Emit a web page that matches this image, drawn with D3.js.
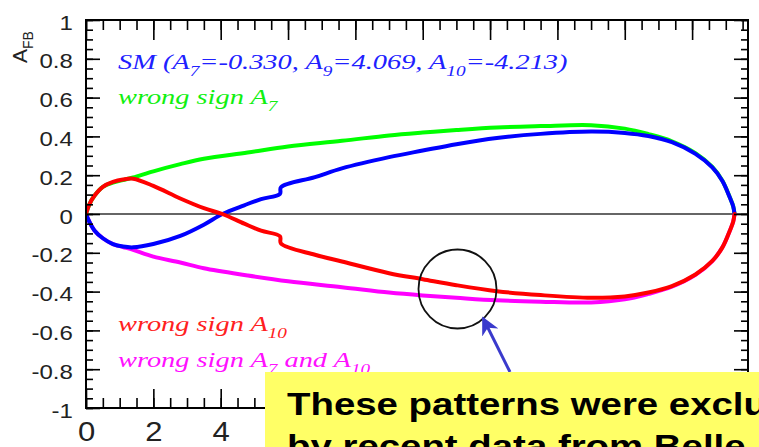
<!DOCTYPE html>
<html>
<head>
<meta charset="utf-8">
<script src="https://cdn.jsdelivr.net/npm/d3@7"></script>
<style>
  html, body { margin: 0; padding: 0; background: #fff; }
  svg { display: block; }
</style>
</head>
<body>
<svg id="chart" width="759" height="447"></svg>
<script>
// Forward-backward asymmetry A_FB versus q^2 for four Wilson-coefficient sign choices.

// SM (A7=-0.330, A9=4.069, A10=-4.213)
const qSM   = [0, 0.1, 0.25, 0.5, 0.8, 1.1, 1.4, 2.0, 2.8, 3.5, 4.05, 4.7, 5.2, 5.76, 5.79, 6.8, 7.6, 9, 10, 11, 12.2, 13.5, 15, 16, 16.7, 17.4, 18.1, 18.6, 18.9, 19.12, 19.22, 19.26];
const afbSM = [0, -0.04, -0.085, -0.125, -0.155, -0.168, -0.172, -0.155, -0.113, -0.055, 0, 0.045, 0.077, 0.104, 0.138, 0.19, 0.235, 0.293, 0.327, 0.36, 0.392, 0.413, 0.425, 0.418, 0.402, 0.37, 0.31, 0.24, 0.17, 0.085, 0.04, 0];

// wrong sign A7
const qA7   = [0, 0.1, 0.25, 0.5, 0.8, 1.1, 1.4, 2.0, 2.8, 3.5, 4.8, 6, 7.6, 9, 10, 11, 12.2, 13.5, 15, 16, 16.7, 17.4, 18.1, 18.6, 18.9, 19.12, 19.22, 19.26];
const afbA7 = [0, 0.05, 0.094, 0.14, 0.162, 0.175, 0.188, 0.22, 0.257, 0.285, 0.317, 0.348, 0.377, 0.405, 0.42, 0.433, 0.446, 0.453, 0.458, 0.44, 0.412, 0.375, 0.314, 0.243, 0.172, 0.086, 0.04, 0];

// wrong sign A10
const qA10   = [0, 0.1, 0.25, 0.5, 0.8, 1.1, 1.4, 2.0, 2.8, 3.5, 4.05, 4.7, 5.2, 5.76, 5.79, 6.8, 7.6, 9, 10, 11, 12.2, 13.5, 15, 16, 16.7, 17.4, 18.1, 18.6, 18.9, 19.12, 19.22, 19.26];
const afbA10 = [0, 0.05, 0.094, 0.14, 0.165, 0.178, 0.182, 0.145, 0.08, 0.03, 0, -0.05, -0.086, -0.115, -0.152, -0.21, -0.245, -0.305, -0.336, -0.367, -0.398, -0.418, -0.432, -0.425, -0.405, -0.372, -0.312, -0.242, -0.172, -0.086, -0.04, 0];

// wrong sign A7 and A10
const qA7A10   = [0, 0.1, 0.25, 0.5, 0.8, 1.1, 1.4, 2.0, 2.8, 3.5, 4.8, 6, 7.6, 9, 10, 11, 12.2, 13.5, 15, 16, 16.7, 17.4, 18.1, 18.6, 18.9, 19.12, 19.22, 19.26];
const afbA7A10 = [0, -0.04, -0.085, -0.125, -0.155, -0.17, -0.185, -0.22, -0.25, -0.28, -0.317, -0.347, -0.377, -0.405, -0.42, -0.432, -0.445, -0.452, -0.456, -0.44, -0.412, -0.375, -0.314, -0.243, -0.172, -0.086, -0.04, 0];

// axis ticks
const xMajorTicks = [0, 2, 4, 6, 8, 10, 12, 14, 16, 18];
const xTickLabels = [0, 2, 4];          // the rest sit under the callout box
const xMinorTicks = d3.range(0, 19.7, 0.5);
const yTickLabels = [1, 0.8, 0.6, 0.4, 0.2, 0, -0.2, -0.4, -0.6, -0.8, -1];
const yMinorTicks = d3.range(-1, 1.001, 0.05);

const svg = d3.select("#chart");
const xMax = 19.66;
const x = d3.scaleLinear().domain([0, xMax]).range([86, 748]);
const y = d3.scaleLinear().domain([-1, 1]).range([408, 20]);

const sansFont = "'Liberation Sans', Arial, Helvetica, sans-serif";
const serifFont = "'Liberation Serif', 'Times New Roman', serif";
const stretch = 1.2;   // glyphs are drawn slightly wide

const defs = svg.append("defs");
defs.append("clipPath").attr("id", "frameClip")
  .append("rect").attr("x", x(0)).attr("y", y(1))
  .attr("width", x(xMax) - x(0)).attr("height", y(-1) - y(1));

// zero line
svg.append("line")
  .attr("x1", x(0)).attr("x2", x(xMax))
  .attr("y1", y(0)).attr("y2", y(0))
  .attr("stroke", "#333").attr("stroke-width", 1.4);

// curves
const line = d3.line().x(d => x(d[0])).y(d => y(d[1])).curve(d3.curveCatmullRom.alpha(0.5));
const series = [
  { q: qA7, a: afbA7, color: "#00ff00" },
  { q: qA7A10, a: afbA7A10, color: "#ff00ff" },
  { q: qSM, a: afbSM, color: "#0000ff" },
  { q: qA10, a: afbA10, color: "#ff0000" }
];
const curves = svg.append("g").attr("clip-path", "url(#frameClip)");
series.forEach(s => {
  curves.append("path")
    .datum(s.q.map((v, i) => [v, s.a[i]]))
    .attr("d", line)
    .attr("fill", "none")
    .attr("stroke", s.color)
    .attr("stroke-width", 4)
    .attr("stroke-linejoin", "round")
    .attr("stroke-linecap", "round");
});

// axes with inward ticks
function styleAxis(g) {
  g.select(".domain").remove();
  g.selectAll(".tick line").attr("stroke", "#000").attr("stroke-width", 1.6);
}
svg.append("g").attr("transform", `translate(${x(0)},0)`)
  .call(d3.axisLeft(y).tickValues(yTickLabels).tickSize(-14).tickPadding(11)
        .tickFormat(d => String(d)))
  .call(styleAxis)
  .call(g => g.selectAll("text").attr("font-family", sansFont).attr("font-size", 20)
        .attr("fill", "#222").attr("dy", "0.45em")
        .attr("transform", `scale(${stretch},1)`));
svg.append("g").attr("transform", `translate(${x(0)},0)`)
  .call(d3.axisLeft(y).tickValues(yMinorTicks).tickSize(-7).tickFormat(""))
  .call(styleAxis);
svg.append("g").attr("transform", `translate(${x(xMax)},0)`)
  .call(d3.axisRight(y).tickValues(yTickLabels).tickSize(-14).tickFormat(""))
  .call(styleAxis);
svg.append("g").attr("transform", `translate(${x(xMax)},0)`)
  .call(d3.axisRight(y).tickValues(yMinorTicks).tickSize(-7).tickFormat(""))
  .call(styleAxis);
svg.append("g").attr("transform", `translate(0,${y(-1)})`)
  .call(d3.axisBottom(x).tickValues(xMajorTicks).tickSize(-19).tickFormat(""))
  .call(styleAxis);
svg.append("g").attr("transform", `translate(0,${y(-1)})`)
  .call(d3.axisBottom(x).tickValues(xTickLabels).tickSize(0).tickPadding(14)
        .tickFormat(d => String(d)))
  .call(styleAxis)
  .call(g => g.selectAll("text").attr("font-family", sansFont).attr("font-size", 27)
        .attr("fill", "#222").attr("transform", `scale(${stretch - 0.05},1)`)
        .attr("x", 0));
svg.append("g").attr("transform", `translate(0,${y(-1)})`)
  .call(d3.axisBottom(x).tickValues(xMinorTicks).tickSize(-10).tickFormat(""))
  .call(styleAxis);
svg.append("g").attr("transform", `translate(0,${y(1)})`)
  .call(d3.axisTop(x).tickValues(xMajorTicks).tickSize(-20).tickFormat(""))
  .call(styleAxis);
svg.append("g").attr("transform", `translate(0,${y(1)})`)
  .call(d3.axisTop(x).tickValues(xMinorTicks).tickSize(-10).tickFormat(""))
  .call(styleAxis);

// frame
svg.append("rect")
  .attr("x", x(0)).attr("y", y(1))
  .attr("width", x(xMax) - x(0)).attr("height", y(-1) - y(1))
  .attr("fill", "none").attr("stroke", "#000").attr("stroke-width", 2);

// y-axis title
const yTitle = svg.append("text")
  .attr("transform", "translate(27,63) rotate(-90)")
  .attr("font-family", sansFont).attr("font-size", 21).attr("fill", "#222");
yTitle.append("tspan").text("A");
yTitle.append("tspan").attr("font-size", 14).attr("dy", 6).text("FB");

// legend labels with subscripts
function latex(parts, px, py, color, size) {
  const t = svg.append("text")
    .attr("transform", `translate(${px},${py}) scale(1.29,1)`)
    .attr("font-family", serifFont).attr("font-style", "italic")
    .attr("font-size", size).attr("fill", color);
  let shifted = false;
  parts.forEach(p => {
    const sub = Array.isArray(p);
    const ts = t.append("tspan").text(sub ? p[0] : p);
    if (sub) { ts.attr("font-size", size * 0.68).attr("dy", shifted ? 0 : 7); shifted = true; }
    else if (shifted) { ts.attr("dy", -7); shifted = false; }
  });
  return t;
}
latex(["SM (A", ["7"], "=-0.330, A", ["9"], "=4.069, A", ["10"], "=-4.213)"], 118, 69, "#2020ff", 22);
latex(["wrong sign A", ["7"]], 118, 104, "#10f010", 22);
latex(["wrong sign A", ["10"]], 118, 331, "#ff2020", 22);
latex(["wrong sign A", ["7"], " and A", ["10"]], 118, 367, "#ff10ff", 22);

// highlight circle and arrow
svg.append("ellipse")
  .attr("cx", 457.5).attr("cy", 289).attr("rx", 39).attr("ry", 39.5)
  .attr("fill", "none").attr("stroke", "#111").attr("stroke-width", 1.8);

defs.append("marker")
  .attr("id", "arrowHead").attr("viewBox", "0 0 10 10")
  .attr("refX", 9).attr("refY", 5)
  .attr("markerWidth", 6).attr("markerHeight", 6)
  .attr("orient", "auto")
  .append("path").attr("d", "M0,0 L10,5 L0,10 L3,5 Z").attr("fill", "#3a3acc");
svg.append("line")
  .attr("x1", 510).attr("y1", 372).attr("x2", 483).attr("y2", 318)
  .attr("stroke", "#3a3acc").attr("stroke-width", 3)
  .attr("marker-end", "url(#arrowHead)");

// callout box
svg.append("rect")
  .attr("x", 265).attr("y", 372).attr("width", 520).attr("height", 100)
  .attr("fill", "#ffff66");
const noteLines = ["These patterns were excluded", "by recent data from Belle"];
noteLines.forEach((s, i) => {
  svg.append("text")
    .attr("transform", `translate(287,${415 + i * 42}) scale(${stretch},1)`)
    .attr("font-family", sansFont).attr("font-weight", "bold")
    .attr("font-size", 32).attr("fill", "#000")
    .text(s);
});
</script>
</body>
</html>
